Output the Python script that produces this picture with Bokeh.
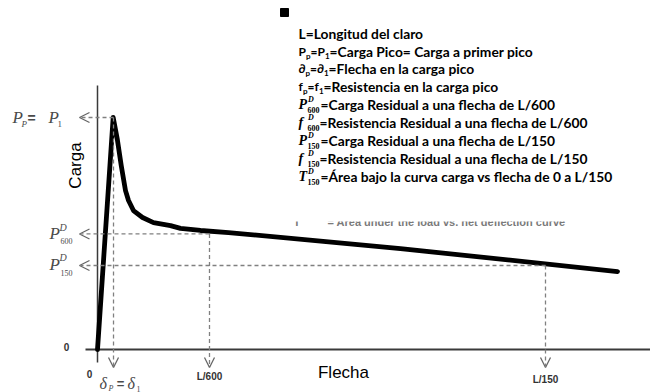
from bokeh.plotting import figure
from bokeh.models import Range1d, Arrow, OpenHead
from bokeh.core.properties import value
from bokeh.embed import file_html
from bokeh.resources import INLINE
import math

# ---- data (deflection in units of L/600, load normalised to peak load) ----
curve_defl = [0.0, 0.14, 0.176, 0.212, 0.25, 0.277, 0.321, 0.402, 0.5, 0.652, 0.741, 0.92, 1.17, 2.705, 4.643]
curve_load = [0.0, 1.0, 0.909, 0.793, 0.685, 0.642, 0.599, 0.569, 0.547, 0.534, 0.522, 0.513, 0.504, 0.435, 0.336]
mark_defl = [0.143, 1.0, 4.0]          # delta_p, L/600, L/150
mark_load = [1.0, 0.498, 0.362]        # P_p, P600, P150
defl_tick_labels = ["L/600", "L/150"]

# ---- layout helpers: reference pixel -> data units ----
def X(px):
    return (px - 97) / 112.0

def Y(py):
    return (349 - py) / 232.0

W, H = 650, 392
p = figure(width=W, height=H, x_range=Range1d(X(0), X(W)), y_range=Range1d(Y(H), Y(0)),
           output_backend="svg", toolbar_location=None, min_border=0,
           x_axis_type=None, y_axis_type=None, outline_line_color=None)
p.grid.visible = False
p.background_fill_color = "white"

def txt(px, py, s, size, font="Lato", style="bold", color="black", align="left", angle=0.0):
    p.text(x=[X(px)], y=[Y(py)], text=[s], text_font=value(font), text_font_size=f"{size}px",
           text_font_style=style, text_color=color, text_align=align, text_baseline="middle", angle=angle)

# axes
p.segment(x0=[X(85)], y0=[0], x1=[X(650)], y1=[0], line_color="#3a3a3a", line_width=2)
p.segment(x0=[0], y0=[Y(362)], x1=[0], y1=[Y(85)], line_color="#3a3a3a", line_width=1.5)

# dashed guide arrows
GRAY = "#808080"
for lx, ly in zip(mark_defl, mark_load):
    p.add_layout(Arrow(end=OpenHead(size=10, line_color="#666666", line_width=1.3),
                       x_start=lx, y_start=ly, x_end=X(79), y_end=ly,
                       line_color=GRAY, line_width=1.3, line_dash="4 3"))
    p.add_layout(Arrow(end=OpenHead(size=10, line_color="#666666", line_width=1.3),
                       x_start=lx, y_start=ly, x_end=lx, y_end=Y(367),
                       line_color=GRAY, line_width=1.3, line_dash="4 3"))

# faded leftover text (partly covered)
txt(293, 221, "T", 11, font="Liberation Sans", color="#7a7a7a")
txt(327, 221, "= Area under the load vs. net deflection curve", 11, font="Liberation Sans", color="#7a7a7a")
p.quad(left=[X(285)], right=[X(625)], top=[Y(200)], bottom=[Y(221)], fill_color="white", line_color=None)

# curve
p.line(curve_defl, curve_load, line_color="black", line_width=4.8, line_join="round", line_cap="round")

# legend marker
p.scatter(x=[X(284)], y=[Y(12)], marker="square", size=8, fill_color="black", line_color="black")

# axis tick labels
txt(66, 346, "0", 10, font="Liberation Sans", color="#333333", align="center")
txt(89, 373, "0", 10, font="Liberation Sans", color="#333333", align="center")
for lab, dx, py in zip(defl_tick_labels, mark_defl[1:], [376, 379]):
    p.text(x=[dx], y=[Y(py)], text=[lab], text_font=value("Liberation Sans"), text_font_size="10px",
           text_font_style="bold", text_color="#333333", text_align="center", text_baseline="middle")

# axis titles
txt(343, 372, "Flecha", 17, font="Liberation Sans", style="normal", align="center")
txt(75, 165, "Carga", 17, font="Liberation Sans", style="normal", align="center", angle=math.pi / 2)

# y-side symbolic labels (serif italic)
SER = "Liberation Serif"
LC = "#4a4a4a"
txt(12, 117, "P", 17, font=SER, style="italic", color=LC)
txt(21, 123, "P", 9, font=SER, style="italic", color=LC)
txt(31, 117, "=", 14, font="Liberation Sans", style="bold", color=LC, align="center")
txt(48, 117, "P", 17, font=SER, style="italic", color=LC)
txt(57, 123, "1", 9, font=SER, style="normal", color=LC)

txt(49, 233, "P", 17, font=SER, style="italic", color=LC)
txt(59, 227, "D", 10, font=SER, style="italic", color=LC)
txt(60, 240, "600", 8, font=SER, style="normal", color=LC)
txt(49, 264, "P", 17, font=SER, style="italic", color=LC)
txt(59, 257, "D", 10, font=SER, style="italic", color=LC)
txt(60, 272, "150", 8, font=SER, style="normal", color=LC)

txt(99, 383, "δ", 16, font=SER, style="italic", color=LC)
txt(108, 388, "P", 8, font=SER, style="italic", color=LC)
txt(120, 383, "=", 13, font="Liberation Sans", style="bold", color=LC, align="center")
txt(127, 383, "δ", 16, font=SER, style="italic", color=LC)
txt(136, 388, "1", 8, font=SER, style="normal", color=LC)

# legend block
MS = 13.8
SYM = 12
SS = 8
txt(298, 33, "L=Longitud del claro", MS)

txt(298, 51, "P", SYM); txt(305.5, 55, "p", SS); txt(310, 51, "=P", SYM); txt(324.5, 55, "1", SS)
txt(329, 51, "=Carga Pico= Carga a primer pico", MS)

txt(298, 68, "∂", SYM); txt(305, 72, "p", SS); txt(309.5, 68, "=∂", SYM); txt(323.5, 72, "1", SS)
txt(328, 68, "=Flecha en la carga pico", MS)

txt(298, 86, "f", SYM); txt(302.5, 90, "p", SS); txt(307, 86, "=f", SYM); txt(318.5, 90, "1", SS)
txt(323, 86, "=Resistencia en la carga pico", MS)

sym_lines = [
    (104, "P", "600", "=Carga Residual a una flecha de L/600", 320),
    (122, "f", "600", "=Resistencia Residual a una flecha de L/600", 319),
    (140, "P", "150", "=Carga Residual a una flecha de L/150", 320),
    (158, "f", "150", "=Resistencia Residual a una flecha de L/150", 319),
    (176, "T", "150", "=Área bajo la curva carga vs flecha de 0 a L/150", 320),
]
for y, sym, sub, rest, xr in sym_lines:
    txt(298, y, sym, 14, font=SER, style="bold italic")
    txt(307.5, y - 5, "D", SS, font=SER, style="bold italic")
    txt(307, y + 5, sub, SS, font=SER, style="bold")
    txt(xr, y, rest, MS)

open("out.html", "w").write(file_html(p, INLINE))
